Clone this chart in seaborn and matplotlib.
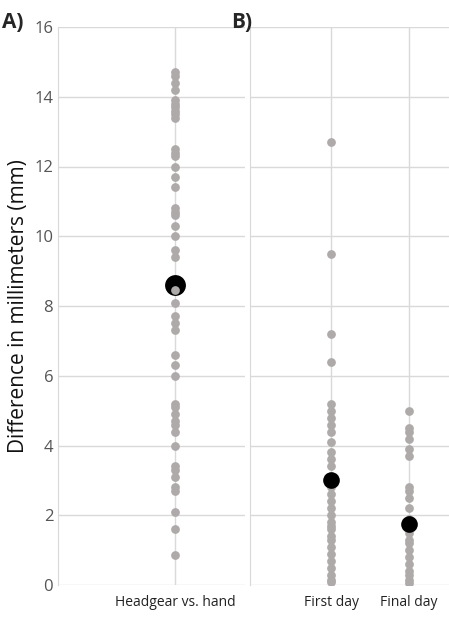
import matplotlib
matplotlib.use("Agg")
import matplotlib.pyplot as plt
import seaborn as sns
import pandas as pd

# ─── Data ─────────────────────────────────────────────────────────────────────
headgear_vs_hand = [14.7, 14.6, 14.4, 14.2, 13.9, 13.8, 13.7, 13.6, 13.5, 13.4,
                    12.5, 12.4, 12.3, 12.0, 11.7, 11.4, 10.8, 10.7, 10.6, 10.3,
                    10.0, 9.6, 9.4, 8.45, 8.1, 7.7, 7.5, 7.3, 6.6, 6.3, 6.0,
                    5.2, 5.1, 4.9, 4.7, 4.6, 4.4, 4.0, 3.4, 3.3, 3.1, 2.8, 2.7,
                    2.1, 1.6, 0.85]
first_day = [12.7, 9.5, 7.2, 6.4, 5.2, 5.0, 4.8, 4.6, 4.4, 4.1, 3.8, 3.6, 3.4,
             3.0, 2.8, 2.6, 2.4, 2.2, 2.0, 1.8, 1.7, 1.6, 1.4, 1.3, 1.1, 0.9,
             0.7, 0.5, 0.3, 0.15, 0.1]
final_day = [5.0, 4.5, 4.4, 4.2, 3.9, 3.7, 2.8, 2.7, 2.5, 2.2, 1.9, 1.7, 1.5,
             1.3, 1.2, 1.0, 0.8, 0.6, 0.4, 0.3, 0.15, 0.05]
mean_a = [8.6]
mean_b = [3.0, 1.75]

cats_a = ["Headgear vs. hand"]
cats_b = ["First day", "Final day"]

GRAY = "#aeaaaa"
GRID = "#d9d9d9"

df_a = pd.DataFrame({"group": cats_a[0], "value": headgear_vs_hand})
df_b = pd.concat([pd.DataFrame({"group": cats_b[0], "value": first_day}),
                  pd.DataFrame({"group": cats_b[1], "value": final_day})])

sns.set_style("white")
plt.rcParams["font.family"] = ["Open Sans", "DejaVu Sans"]

fig = plt.figure(figsize=(4.49, 6.2), dpi=100)
ax1 = fig.add_axes([58 / 449, 35 / 620, 187 / 449, 558 / 620])
ax2 = fig.add_axes([250 / 449, 35 / 620, 199 / 449, 558 / 620])

sns.stripplot(data=df_a, x="group", y="value", order=cats_a, jitter=False,
              color=GRAY, size=6.3, ax=ax1, zorder=3)
sns.stripplot(x=cats_a, y=mean_a, order=cats_a, jitter=False, color="black",
              size=15, ax=ax1, zorder=2)
sns.stripplot(data=df_b, x="group", y="value", order=cats_b, jitter=False,
              color=GRAY, size=6.3, ax=ax2, zorder=2)
sns.stripplot(x=cats_b, y=mean_b, order=cats_b, jitter=False, color="black",
              size=12, ax=ax2, zorder=3)

ax1.set_xlim(-1.25, 0.75)
ax2.set_xlim(-1.04, 1.51)

for ax in (ax1, ax2):
    ax.set_ylim(0, 16)
    ax.set_yticks(range(0, 17, 2))
    ax.grid(True, color=GRID, lw=1)
    ax.set_axisbelow(True)
    for s in ("top", "right", "bottom"):
        ax.spines[s].set_visible(False)
    ax.spines["left"].set_color(GRID)
    ax.set_xlabel("")
    ax.set_ylabel("")
    ax.tick_params(axis="x", length=0, labelsize=10, colors="#222222", pad=7)
    ax.tick_params(axis="y", length=0)

ax1.tick_params(axis="y", labelsize=12, colors="#555555")
ax2.set_yticklabels([])
ax1.set_ylabel("Difference in millimeters (mm)", fontsize=15, color="#111111")

fig.text(2 / 449, 1 - 22 / 620, "A)", fontsize=15, fontweight="bold", va="center")
fig.text(231 / 449, 1 - 22 / 620, "B)", fontsize=15, fontweight="bold", va="center")

fig.savefig("out.png", dpi=100)
